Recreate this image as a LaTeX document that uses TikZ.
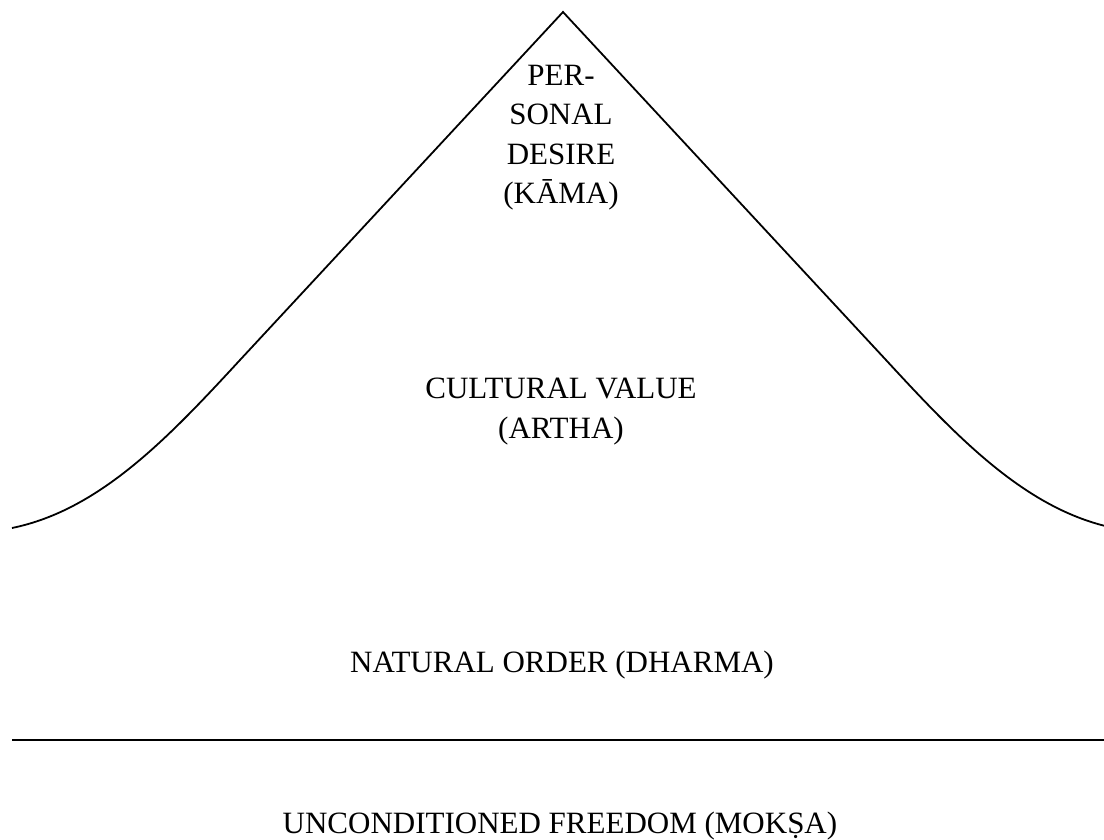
\documentclass[tikz,border=0pt]{standalone}
\usepackage{fontspec}
\setmainfont{Liberation Serif}
\begin{document}
\begin{tikzpicture}[x=1pt,y=-1pt,
  lbl/.style={font=\fontsize{31pt}{39.5pt}\selectfont, align=center, inner sep=0pt, anchor=base},
  outline/.style={line width=1.8pt, line join=miter},
  ground/.style={line width=2pt}]
\useasboundingbox (0,0) rectangle (1104,840);
\begin{scope}
\clip (0,0) rectangle (1104,840);
\coordinate (apex) at (563,12);
\coordinate (lend) at (12,528);
\coordinate (rend) at (1114,528);
\draw[outline] (lend) .. controls (100,510) and (169,437) .. (240,360)
  -- (apex) -- (886,360) .. controls (957,437) and (1026,510) .. (rend);
\coordinate (gl) at (12,740);
\coordinate (gr) at (1104,740);
\draw[ground] (gl) -- (gr);
\end{scope}
\node[lbl] (kama) at (561,204) {PER-\\SONAL\\DESIRE\\(KĀMA)};
\node[lbl] (artha) at (561,438) {CULTURAL VALUE\\(ARTHA)};
\node[lbl] (dharma) at (562,672) {NATURAL ORDER (DHARMA)};
\node[lbl] (moksa) at (560,833) {UNCONDITIONED FREEDOM (MOKṢA)};
\end{tikzpicture}
\end{document}
